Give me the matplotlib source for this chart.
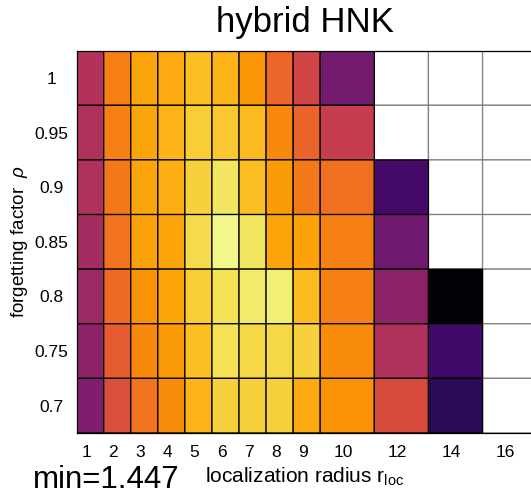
import numpy as np
import matplotlib
matplotlib.use("Agg")
import matplotlib.pyplot as plt
from matplotlib.colors import ListedColormap
from matplotlib.transforms import ScaledTranslation

# ------------------------------------------
# Fonts
# ------------------------------------------

plt.rcParams["font.family"] = ["Liberation Sans", "DejaVu Sans"]
plt.rcParams["mathtext.fontset"] = "custom"
plt.rcParams["mathtext.rm"] = "Liberation Sans"
plt.rcParams["mathtext.it"] = "Liberation Sans:italic"

# ------------------------------------------
# Data: time-mean RMSE over (rho, r_loc)
# ------------------------------------------

r_loc = [1, 2, 3, 4, 5, 6, 7, 8, 9, 10, 12, 14, 16]
rho = [1, 0.95, 0.9, 0.85, 0.8, 0.75, 0.7]

nan = np.nan
rmse = np.array([
    [2.232, 1.848, 1.720, 1.704, 1.640, 1.672, 1.768, 1.944, 2.104, 2.488, nan, nan, nan],
    [2.248, 1.848, 1.720, 1.672, 1.592, 1.608, 1.656, 1.816, 1.960, 2.152, nan, nan, nan],
    [2.248, 1.880, 1.720, 1.688, 1.576, 1.512, 1.640, 1.752, 1.880, 1.912, 2.664, nan, nan],
    [2.296, 1.896, 1.736, 1.720, 1.544, 1.447, 1.512, 1.720, 1.736, 1.848, 2.504, nan, nan],
    [2.328, 1.928, 1.784, 1.720, 1.592, 1.528, 1.496, 1.480, 1.656, 1.848, 2.392, 2.984, nan],
    [2.392, 1.992, 1.816, 1.752, 1.640, 1.528, 1.560, 1.560, 1.576, 1.800, 2.248, 2.680, nan],
    [2.440, 2.056, 1.896, 1.800, 1.672, 1.576, 1.576, 1.576, 1.704, 1.784, 2.072, 2.760, nan],
])

# ------------------------------------------
# Cell geometry (wider cells for r_loc >= 10)
# ------------------------------------------

widths = np.array([1] * 9 + [2] * 4)
x_edges = np.concatenate([[0.5], 0.5 + np.cumsum(widths)])
x_centers = (x_edges[:-1] + x_edges[1:]) / 2
y_edges = np.arange(len(rho) + 1) - 0.5

# ------------------------------------------
# Plot
# ------------------------------------------

fig = plt.figure(figsize=(5.31, 4.95), dpi=100)
ax = fig.add_axes([0.1444, 0.1253, 0.8663, 0.7723])

# empty (diverged / not run) cells
blank = np.ma.masked_where(~np.isnan(rmse), np.zeros_like(rmse))
ax.pcolor(x_edges, y_edges, blank, cmap=ListedColormap(["white"]),
          edgecolors="#808080", linewidth=0.9)

cmap = plt.get_cmap("inferno_r")
ax.pcolor(x_edges, y_edges, np.ma.masked_invalid(rmse), cmap=cmap,
          vmin=1.4, vmax=3.0, edgecolors="k", linewidth=0.9)

ax.set_xlim(x_edges[0], x_edges[-1])
ax.set_ylim(y_edges[-1], y_edges[0])

ax.set_xticks(x_centers, [str(r) for r in r_loc])
ax.set_yticks(np.arange(len(rho)), [f"{v:g}" for v in rho])
ax.tick_params(length=0, labelsize=12.5)
ax.tick_params(axis="x", pad=9)
ax.tick_params(axis="y", pad=18)

# x labels sit a little left of the cell centres, y labels are centred
shift = ScaledTranslation(-4 / 100, 0, fig.dpi_scale_trans)
for lab in ax.get_xticklabels():
    lab.set_transform(lab.get_transform() + shift)
for lab in ax.get_yticklabels():
    lab.set_horizontalalignment("center")

for s in ax.spines.values():
    s.set_linewidth(0.9)

fig.text(0.575, 0.935, "hybrid HNK", ha="center", va="baseline", fontsize=25)
fig.text(20 / 531, 1 - 242 / 495, r"forgetting factor  $\rho$",
         rotation=90, ha="center", va="center", fontsize=13.5)
fig.text(0.574, 0.0242, r"localization radius r$_{\mathrm{loc}}$",
         ha="center", va="baseline", fontsize=15)
fig.text(33 / 531, 0.014, f"min={np.nanmin(rmse):.3f}",
         ha="left", va="baseline", fontsize=22.5)

fig.savefig("out.png", dpi=100)
